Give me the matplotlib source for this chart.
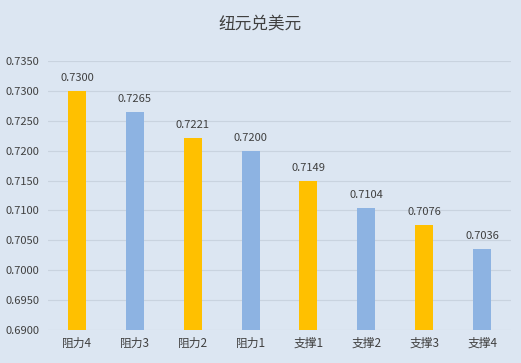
import matplotlib.pyplot as plt
import matplotlib.ticker as mticker

plt.rcParams['font.family'] = ['Noto Sans CJK SC', 'DejaVu Sans']

# 数据
categories = ['阻力4', '阻力3', '阻力2', '阻力1', '支撑1', '支撑2', '支撑3', '支撑4']
values = [0.7300, 0.7265, 0.7221, 0.7200, 0.7149, 0.7104, 0.7076, 0.7036]
colors = ['#FFC000', '#8DB3E2', '#FFC000', '#8DB3E2',
          '#FFC000', '#8DB3E2', '#FFC000', '#8DB3E2']

BG = '#DCE6F2'
TXT = '#404040'

fig = plt.figure(figsize=(5.21, 3.63), dpi=100, facecolor=BG)
ax = fig.add_axes([0.092, 0.091, 0.889, 0.741], facecolor=BG)

x = range(len(categories))
base = 0.69
ax.bar(x, [v - base for v in values], bottom=base, width=0.31,
       color=colors, zorder=3)

for i, v in enumerate(values):
    ax.text(i, v + 0.0013, f'{v:.4f}', ha='center', va='bottom',
            fontsize=8, color=TXT)

ax.set_ylim(0.69, 0.735)
ax.set_xlim(-0.5, len(categories) - 0.5)
ax.yaxis.set_major_locator(mticker.MultipleLocator(0.005))
ax.yaxis.set_major_formatter(mticker.FormatStrFormatter('%.4f'))
ax.grid(axis='y', color='#C9D3DF', lw=0.8, zorder=0)

ax.set_xticks(list(x))
ax.set_xticklabels(categories, fontsize=8.5, color=TXT)
ax.tick_params(axis='y', labelsize=8, colors=TXT, length=0, pad=6)
ax.tick_params(axis='x', length=0, pad=5)
for s in ax.spines.values():
    s.set_visible(False)

fig.text(0.5, 0.935, '纽元兑美元', ha='center', va='center',
         fontsize=12, color=TXT)

fig.savefig('out.png', dpi=100, facecolor=BG)
